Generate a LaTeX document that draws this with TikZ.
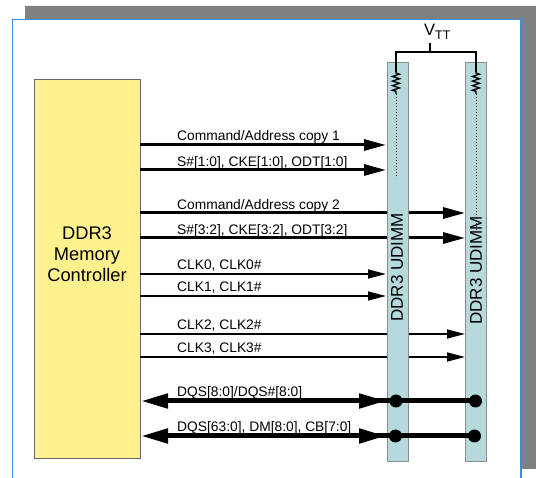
\documentclass[tikz,border=0pt]{standalone}
\usepackage{fontspec}
\setmainfont{Liberation Sans}
\usetikzlibrary{arrows.meta,decorations.pathmorphing}
\definecolor{ctrlfill}{HTML}{FFF28E}
\definecolor{dimmfill}{HTML}{B6DADB}
\definecolor{band}{HTML}{808080}
\definecolor{frameblue}{HTML}{3F8BDD}
\tikzset{
  ctrl/.style={draw=black!60,line width=1pt,fill=ctrlfill,minimum width=106pt,minimum height=379pt,inner sep=0pt},
  ctrltext/.style={inner sep=0pt,align=center,font=\fontsize{18.3}{21}\selectfont},
  dimm/.style={draw=black!45,line width=1pt,fill=dimmfill,minimum width=21pt,minimum height=399pt,inner sep=0pt},
  dimmtext/.style={rotate=90,font=\fontsize{17}{18}\selectfont,inner sep=0pt},
  sig/.style={font=\fontsize{13.8}{15}\selectfont,anchor=base west,inner sep=0pt},
  thickbus/.style={line width=3pt,-{Triangle[length=22pt,width=11pt]}},
  thinbus/.style={line width=1.5pt,-{Triangle[length=18pt,width=9pt]}},
  databus/.style={line width=5pt,{Triangle[length=27pt,width=14pt]}-{Triangle[length=27pt,width=14pt]}},
  datarun/.style={line width=5pt},
  junction/.style={circle,fill=black,inner sep=0pt,minimum size=13pt},
  res/.style={line width=1.3pt,decorate,decoration={zigzag,segment length=4.6pt,amplitude=3.5pt,pre length=1pt,post length=1pt}},
  dots/.style={line width=1pt,dotted,line cap=butt},
  wire/.style={line width=1.4pt}
}
\begin{document}
\begin{tikzpicture}[x=1pt,y=-1pt]
\useasboundingbox (0,0) rectangle (536,478);
\fill[white] (0,0) rectangle (536,478);
\fill[band] (25,6) rectangle (536,19) (522,19) rectangle (536,469);
\draw[frameblue,line width=1.2pt] (12.5,478) -- (12.5,19.5) -- (521,19.5) -- (521,478);
\coordinate (ctrlA) at (140,213);
\coordinate (ctrlB) at (140,238);
\coordinate (ctrlC) at (140,334);
\coordinate (ctrlD) at (140,357);
\node[ctrl] (mc) at (87,269.5) {};
\node[ctrltext] (mct) at (87,254) {DDR3\\Memory\\Controller};
\node[dimm] (d1) at (397.5,262.5) {};
\node[dimm] (d2) at (476,262.5) {};
\coordinate (d1t1) at (386,145); \coordinate (d1t2) at (386,170);
\coordinate (d1t3) at (386,274); \coordinate (d1t4) at (386,296);
\coordinate (m1) at (140,145); \coordinate (m2) at (140,170);
\coordinate (m3) at (140,274); \coordinate (m4) at (140,296);
\coordinate (d2t1) at (465,213); \coordinate (d2t2) at (465,238);
\coordinate (d2t3) at (465,334); \coordinate (d2t4) at (465,357);
% bus lines to the second module, hidden where they cross the first
\draw[thickbus] (ctrlA) -- (d2t1);
\draw[thickbus] (ctrlB) -- (d2t2);
\draw[thinbus] (ctrlC) -- (d2t3);
\draw[thinbus] (ctrlD) -- (d2t4);
\fill[dimmfill] (387.5,205) rectangle (407.5,365);
\draw[black!45,line width=1pt] (387,205) -- (387,365) (408,205) -- (408,365);
\draw[thickbus] (m1) -- (d1t1);
\draw[thickbus] (m2) -- (d1t2);
\draw[thinbus] (m3) -- (d1t3);
\draw[thinbus] (m4) -- (d1t4);
% data buses
\node[junction] (j1) at (396,401) {};
\node[junction] (j2) at (475.5,401) {};
\node[junction] (j3) at (395.5,436) {};
\node[junction] (j4) at (474.5,436) {};
\coordinate (m5) at (141,401); \coordinate (m6) at (141,436);
\coordinate (h5) at (386,401); \coordinate (h6) at (386,436);
\coordinate (b5) at (365,401); \coordinate (b6) at (365,436);
\draw[databus] (m5) -- (h5);
\draw[databus] (m6) -- (h6);
\draw[datarun] (b5) -- (j2.center);
\draw[datarun] (b6) -- (j4.center);
% termination
\coordinate (tee) at (430,52);
\coordinate (vs) at (430,43);
\coordinate (r1a) at (396,72); \coordinate (r1b) at (396,94);
\coordinate (r2a) at (476,72); \coordinate (r2b) at (476,94);
\coordinate (e1) at (396,178); \coordinate (e2) at (476,232);
\draw[wire] (r1a) -- (396,52) -- (476,52) -- (r2a);
\draw[wire] (vs) -- (tee);
\draw[res] (r1a) -- (r1b);
\draw[res] (r2a) -- (r2b);
\draw[dots] (r1b) -- (e1);
\draw[dots] (r2b) -- (e2);
% labels
\node[dimmtext] (t1) at (397,267.5) {DDR3 UDIMM};
\node[dimmtext] (t2) at (476,270.5) {DDR3 UDIMM};
\node[inner sep=0pt,anchor=base west,font=\fontsize{16.5}{18}\selectfont] (vtt) at (424,36) {V\raisebox{-3.5pt}{\fontsize{12.5}{14}\selectfont TT}};
\node[sig] (l1) at (177,141) {Command/Address copy 1};
\node[sig] (l2) at (177,166.5) {S\#[1:0], CKE[1:0], ODT[1:0]};
\node[sig] (l3) at (177,210) {Command/Address copy 2};
\node[sig] (l4) at (177,235) {S\#[3:2], CKE[3:2], ODT[3:2]};
\node[sig] (l5) at (177,270) {CLK0, CLK0\#};
\node[sig] (l6) at (177,292) {CLK1, CLK1\#};
\node[sig] (l7) at (177,330) {CLK2, CLK2\#};
\node[sig] (l8) at (177,353) {CLK3, CLK3\#};
\node[sig] (l9) at (177,397) {DQS[8:0]/DQS\#[8:0]};
\node[sig] (l10) at (177,432) {DQS[63:0], DM[8:0], CB[7:0]};
\end{tikzpicture}
\end{document}
